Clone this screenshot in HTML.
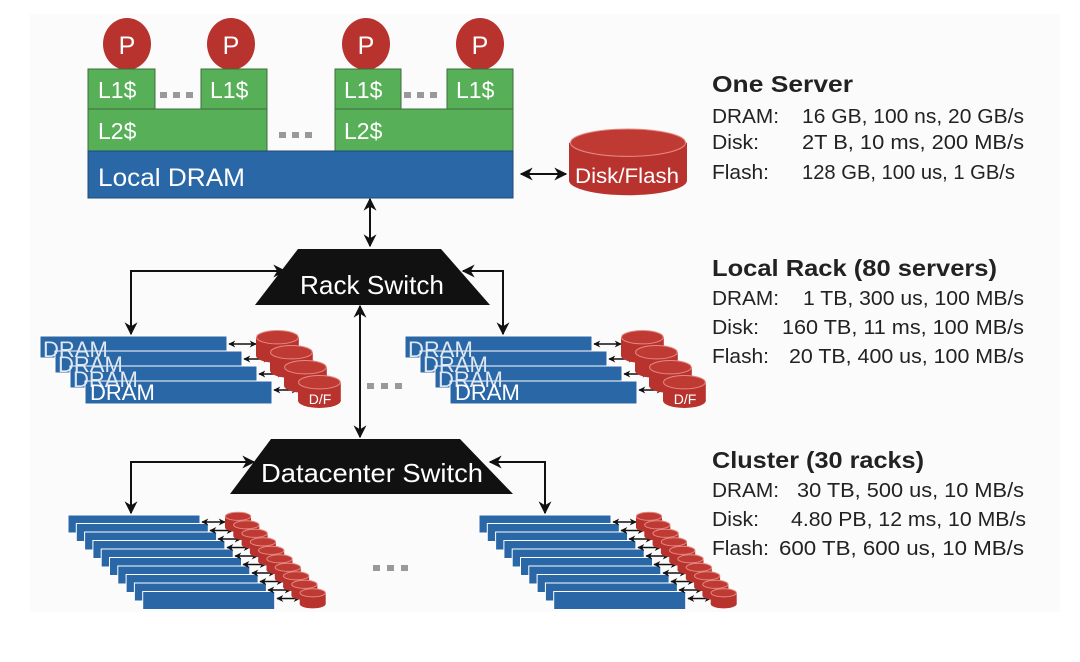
<!DOCTYPE html>
<html><head><meta charset="utf-8"><style>
body{margin:0;background:#fff}
svg{display:block}
text{font-family:"Liberation Sans",sans-serif}
</style></head><body>
<svg width="1080" height="662" viewBox="0 0 1080 662" xmlns="http://www.w3.org/2000/svg">
<defs>
<marker id="a" viewBox="0 0 10 10" refX="9" refY="5" markerWidth="13" markerHeight="13" markerUnits="userSpaceOnUse" orient="auto-start-reverse"><path d="M0,0 L10,5 L0,10 L3,5 z" fill="#111"/></marker>
<marker id="s" viewBox="0 0 10 10" refX="9" refY="5" markerWidth="7" markerHeight="7" markerUnits="userSpaceOnUse" orient="auto-start-reverse"><path d="M0,0 L10,5 L0,10 L3,5 z" fill="#111"/></marker>
<g id="cyl">
<rect x="0" y="7" width="40" height="18" fill="#b8332e"/>
<ellipse cx="20" cy="25" rx="20" ry="7" fill="#b8332e"/>
<ellipse cx="20" cy="7" rx="19.5" ry="6.5" fill="#c03a34" stroke="#e58a85" stroke-width="1" vector-effect="non-scaling-stroke"/>
</g>
</defs>
<rect x="30" y="14" width="1030" height="598" fill="#fbfbfb"/>

<!-- One server -->
<g fill="#b8332e">
<ellipse cx="127" cy="44" rx="24" ry="26"/><ellipse cx="231" cy="44" rx="24" ry="26"/>
<ellipse cx="366" cy="44" rx="24" ry="26"/><ellipse cx="480" cy="44" rx="24" ry="26"/>
</g>
<g fill="#fff" font-size="25" text-anchor="middle">
<text x="127" y="54">P</text><text x="231" y="54">P</text><text x="366" y="54">P</text><text x="480" y="54">P</text>
</g>
<g fill="#57af57" stroke="#3d6e3d" stroke-width="1">
<rect x="88" y="69" width="67" height="40"/><rect x="201" y="69" width="66" height="40"/>
<rect x="335" y="69" width="66" height="40"/><rect x="447" y="69" width="66" height="40"/>
<rect x="88" y="109" width="179" height="42"/><rect x="335" y="109" width="178" height="42"/>
</g>
<rect x="88" y="151" width="425" height="47" fill="#2a67a6" stroke="#1d4a78"/>
<g fill="#fff" font-size="23">
<text x="98" y="98">L1$</text><text x="210" y="98">L1$</text><text x="344" y="98">L1$</text><text x="456" y="98">L1$</text>
<text x="98" y="139">L2$</text><text x="344" y="139">L2$</text>
<text x="98" y="186" font-size="25" textLength="147" lengthAdjust="spacingAndGlyphs">Local DRAM</text>
</g>
<g fill="#999">
<rect x="160" y="92" width="7" height="6"/><rect x="173" y="92" width="7" height="6"/><rect x="186" y="92" width="7" height="6"/>
<rect x="404" y="92" width="7" height="6"/><rect x="417" y="92" width="7" height="6"/><rect x="430" y="92" width="7" height="6"/>
<rect x="279" y="132" width="7" height="6"/><rect x="292" y="132" width="7" height="6"/><rect x="305" y="132" width="7" height="6"/>
</g>
<use href="#cyl" transform="translate(569,128) scale(2.95,2.1)"/>
<text x="627" y="183" fill="#fff" font-size="21" text-anchor="middle" textLength="104" lengthAdjust="spacingAndGlyphs">Disk/Flash</text>
<line x1="521" y1="174" x2="566" y2="174" stroke="#111" stroke-width="2" marker-start="url(#a)" marker-end="url(#a)"/>
<line x1="370" y1="199" x2="370" y2="246" stroke="#111" stroke-width="2" marker-start="url(#a)" marker-end="url(#a)"/>

<!-- Rack switch -->
<polygon points="298,249 441,249 490,305 255,305" fill="#111"/>
<text x="372" y="294" fill="#fff" font-size="26" text-anchor="middle" textLength="144" lengthAdjust="spacingAndGlyphs">Rack Switch</text>
<polyline points="285,271 131,271 131,334" fill="none" stroke="#111" stroke-width="2" marker-start="url(#a)" marker-end="url(#a)"/>
<polyline points="463,271 503,271 503,334" fill="none" stroke="#111" stroke-width="2" marker-start="url(#a)" marker-end="url(#a)"/>
<line x1="360" y1="306" x2="360" y2="437" stroke="#111" stroke-width="2" marker-start="url(#a)" marker-end="url(#a)"/>
<g fill="#999">
<rect x="367" y="383" width="7" height="6"/><rect x="381" y="383" width="7" height="6"/><rect x="395" y="383" width="7" height="6"/>
<rect x="373" y="565" width="7" height="6"/><rect x="387" y="565" width="7" height="6"/><rect x="401" y="565" width="7" height="6"/>
</g>

<!-- rack groups -->
<g id="rack">
<g fill="#2a67a6" stroke="#fff" stroke-width="1">
<rect x="40" y="336" width="187" height="22"/>
<rect x="55" y="351" width="187" height="22"/>
<rect x="70" y="366" width="187" height="22"/>
<rect x="85" y="381" width="187" height="23"/>
</g>
<g fill="#dfe8f2" font-size="22">
<text x="43" y="357">DRAM</text><text x="58" y="372">DRAM</text><text x="73" y="387">DRAM</text><text x="90" y="400" fill="#fff">DRAM</text>
</g>
<g stroke="#111" stroke-width="1.5">
<line x1="229" y1="344" x2="256" y2="344" marker-start="url(#s)" marker-end="url(#s)"/>
<line x1="244" y1="359" x2="270" y2="359" marker-start="url(#s)" marker-end="url(#s)"/>
<line x1="259" y1="374" x2="284" y2="374" marker-start="url(#s)" marker-end="url(#s)"/>
<line x1="274" y1="390" x2="298" y2="390" marker-start="url(#s)" marker-end="url(#s)"/>
</g>
<use href="#cyl" transform="translate(256,330) scale(1.07,1.03)"/>
<use href="#cyl" transform="translate(270,345) scale(1.07,1.03)"/>
<use href="#cyl" transform="translate(284,360) scale(1.07,1.03)"/>
<use href="#cyl" transform="translate(298,375) scale(1.07,1.03)"/>
<text x="320" y="404" fill="#fff" font-size="14" text-anchor="middle">D/F</text>
</g>
<use href="#rack" transform="translate(365,0)"/>

<!-- Datacenter switch -->
<polygon points="271,439 460,439 513,494 230,494" fill="#111"/>
<text x="372" y="482" fill="#fff" font-size="26" text-anchor="middle" textLength="222" lengthAdjust="spacingAndGlyphs">Datacenter Switch</text>
<polyline points="254,462 131,462 131,513" fill="none" stroke="#111" stroke-width="2" marker-start="url(#a)" marker-end="url(#a)"/>
<polyline points="490,462 545,462 545,513" fill="none" stroke="#111" stroke-width="2" marker-start="url(#a)" marker-end="url(#a)"/>

<!-- cluster group -->
<g id="cl">
<g fill="#2a67a6" stroke="#fff" stroke-width="1">
<rect x="68" y="515" width="132" height="18"/>
<rect x="76.3" y="523.5" width="132" height="18"/>
<rect x="84.6" y="532" width="132" height="18"/>
<rect x="92.9" y="540.5" width="132" height="18"/>
<rect x="101.2" y="549" width="132" height="18"/>
<rect x="109.5" y="557.5" width="132" height="18"/>
<rect x="117.8" y="566" width="132" height="18"/>
<rect x="126.1" y="574.5" width="132" height="18"/>
<rect x="134.4" y="583" width="132" height="18"/>
<rect x="142.7" y="591.5" width="132" height="18"/>
</g>
<g stroke="#111" stroke-width="1.4">
<line x1="202" y1="522" x2="225" y2="522" marker-start="url(#s)" marker-end="url(#s)"/>
<line x1="210" y1="530.5" x2="233" y2="530.5" marker-start="url(#s)" marker-end="url(#s)"/>
<line x1="218" y1="539" x2="241" y2="539" marker-start="url(#s)" marker-end="url(#s)"/>
<line x1="227" y1="547.5" x2="250" y2="547.5" marker-start="url(#s)" marker-end="url(#s)"/>
<line x1="235" y1="556" x2="258" y2="556" marker-start="url(#s)" marker-end="url(#s)"/>
<line x1="243" y1="564.5" x2="266" y2="564.5" marker-start="url(#s)" marker-end="url(#s)"/>
<line x1="252" y1="573" x2="275" y2="573" marker-start="url(#s)" marker-end="url(#s)"/>
<line x1="260" y1="581.5" x2="283" y2="581.5" marker-start="url(#s)" marker-end="url(#s)"/>
<line x1="268" y1="590" x2="291" y2="590" marker-start="url(#s)" marker-end="url(#s)"/>
<line x1="277" y1="598.5" x2="300" y2="598.5" marker-start="url(#s)" marker-end="url(#s)"/>
</g>
<use href="#cyl" transform="translate(225,512) scale(0.65,0.62)"/>
<use href="#cyl" transform="translate(233.3,520.5) scale(0.65,0.62)"/>
<use href="#cyl" transform="translate(241.6,529) scale(0.65,0.62)"/>
<use href="#cyl" transform="translate(249.9,537.5) scale(0.65,0.62)"/>
<use href="#cyl" transform="translate(258.2,546) scale(0.65,0.62)"/>
<use href="#cyl" transform="translate(266.5,554.5) scale(0.65,0.62)"/>
<use href="#cyl" transform="translate(274.8,563) scale(0.65,0.62)"/>
<use href="#cyl" transform="translate(283.1,571.5) scale(0.65,0.62)"/>
<use href="#cyl" transform="translate(291.4,580) scale(0.65,0.62)"/>
<use href="#cyl" transform="translate(299.7,588.5) scale(0.65,0.62)"/>
</g>
<use href="#cl" transform="translate(411,0)"/>

<!-- right text -->
<g fill="#222" font-size="20" lengthAdjust="spacingAndGlyphs">
<text x="712" y="92" font-size="23" font-weight="bold" textLength="141" lengthAdjust="spacingAndGlyphs">One Server</text>
<text x="712" y="123" textLength="67" lengthAdjust="spacingAndGlyphs">DRAM:</text><text x="802" y="123" textLength="222" lengthAdjust="spacingAndGlyphs">16 GB, 100 ns, 20 GB/s</text>
<text x="712" y="149" textLength="47" lengthAdjust="spacingAndGlyphs">Disk:</text><text x="802" y="149" textLength="222" lengthAdjust="spacingAndGlyphs">2T B,  10 ms, 200 MB/s</text>
<text x="712" y="179" textLength="57" lengthAdjust="spacingAndGlyphs">Flash:</text><text x="802" y="179" textLength="213" lengthAdjust="spacingAndGlyphs">128 GB, 100 us, 1 GB/s</text>

<text x="712" y="276" font-size="23" font-weight="bold" textLength="285" lengthAdjust="spacingAndGlyphs">Local Rack (80 servers)</text>
<text x="712" y="305" textLength="67" lengthAdjust="spacingAndGlyphs">DRAM:</text><text x="803" y="305" textLength="221" lengthAdjust="spacingAndGlyphs">1 TB, 300 us, 100 MB/s</text>
<text x="712" y="334" textLength="47" lengthAdjust="spacingAndGlyphs">Disk:</text><text x="782" y="334" textLength="242" lengthAdjust="spacingAndGlyphs">160 TB, 11 ms, 100 MB/s</text>
<text x="712" y="363" textLength="57" lengthAdjust="spacingAndGlyphs">Flash:</text><text x="789" y="363" textLength="235" lengthAdjust="spacingAndGlyphs">20 TB, 400 us, 100 MB/s</text>

<text x="712" y="468" font-size="23" font-weight="bold" textLength="212" lengthAdjust="spacingAndGlyphs">Cluster (30 racks)</text>
<text x="712" y="497" textLength="67" lengthAdjust="spacingAndGlyphs">DRAM:</text><text x="797" y="497" textLength="227" lengthAdjust="spacingAndGlyphs">30 TB,  500 us, 10 MB/s</text>
<text x="712" y="526" textLength="47" lengthAdjust="spacingAndGlyphs">Disk:</text><text x="791" y="526" textLength="235" lengthAdjust="spacingAndGlyphs">4.80 PB, 12 ms, 10 MB/s</text>
<text x="712" y="555" textLength="57" lengthAdjust="spacingAndGlyphs">Flash:</text><text x="779" y="555" textLength="245" lengthAdjust="spacingAndGlyphs">600 TB,   600 us, 10 MB/s</text>
</g>
</svg>
</body></html>
